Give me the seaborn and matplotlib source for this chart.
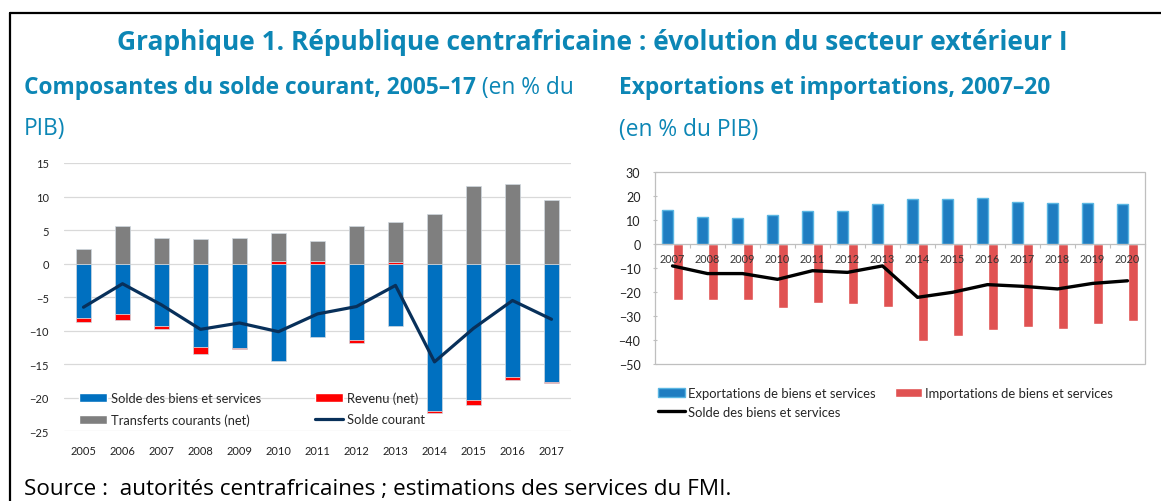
import numpy as np
import pandas as pd
import matplotlib
matplotlib.use("Agg")
import matplotlib.pyplot as plt
import seaborn as sns
from matplotlib.patches import Patch, Rectangle
from matplotlib.lines import Line2D

# composantes du solde courant, en % du PIB
annees_g = [str(a) for a in range(2005, 2018)]
solde_biens = [-8.05, -7.55, -9.3, -12.4, -12.55, -14.55, -10.9, -11.35, -9.3, -21.95, -20.3, -16.95, -17.65]
revenu = [-0.7, -0.85, -0.5, -1.15, -0.25, 0.4, 0.4, -0.5, 0.2, -0.25, -0.85, -0.4, -0.1]
transferts = [2.25, 5.55, 3.75, 3.65, 3.75, 4.1, 2.95, 5.55, 6.0, 7.35, 11.5, 11.8, 9.45]
solde_courant = [-6.5, -3.0, -6.15, -9.8, -8.85, -10.15, -7.5, -6.4, -3.25, -14.65, -9.65, -5.5, -8.3]

# exportations / importations, en % du PIB
annees_d = [str(a) for a in range(2007, 2021)]
exportations = [14.5, 11.3, 11.1, 12.3, 14.0, 14.0, 17.0, 18.9, 18.7, 19.2, 17.6, 17.3, 17.3, 17.0]
importations = [-23.3, -23.3, -23.3, -26.4, -24.4, -24.7, -26.2, -40.2, -38.4, -35.6, -34.5, -35.4, -33.3, -31.8]
solde_bs = [-9.0, -12.2, -12.2, -14.6, -11.0, -11.7, -9.0, -22.1, -20.0, -16.8, -17.5, -18.6, -16.3, -15.2]

BLEU = "#0070C0"
ROUGE = "#FF0000"
GRIS = "#7F7F7F"
MARINE = "#08305A"
EXPORT = "#1F7DC1"
EXPORT_BORD = "#5AB6E2"
IMPORT = "#E05252"
TEAL = "#0C86B5"

sns.set_theme(style="white")
plt.rcParams["font.family"] = ["Lato", "DejaVu Sans"]

W, H = 1161, 502
fig = plt.figure(figsize=(W / 100, H / 100), dpi=100)

# cadre (haut + gauche)
fig.add_artist(Line2D([10 / W, 1], [1 - 14 / H, 1 - 14 / H], color="black", lw=1.6))
fig.add_artist(Line2D([10 / W, 10 / W], [0, 1 - 14 / H], color="black", lw=1.6))

# titres
titre_font = ["Open Sans", "DejaVu Sans"]
fig.text(592 / W, 1 - 42 / H, "Graphique 1. République centrafricaine : évolution du secteur extérieur I",
         ha="center", va="center", fontsize=19, fontweight="bold", color=TEAL, family=titre_font)

t1 = fig.text(24 / W, 1 - 88 / H, "Composantes du solde courant, 2005–17", ha="left", va="center",
              fontsize=16.4, fontweight="bold", color=TEAL, family=titre_font)
fig.add_artist(plt.Annotation(" (en % du", xy=(1, 0.5), xycoords=t1, va="center", ha="left",
                              fontsize=16.4, color=TEAL, family=titre_font))
fig.text(24 / W, 1 - 129 / H, "PIB)", ha="left", va="center", fontsize=16.4, color=TEAL, family=titre_font)

fig.text(619 / W, 1 - 88 / H, "Exportations et importations, 2007–20", ha="left", va="center",
         fontsize=16.4, fontweight="bold", color=TEAL, family=titre_font)
fig.text(619 / W, 1 - 130 / H, "(en % du PIB)", ha="left", va="center", fontsize=16.4, color=TEAL,
         family=titre_font)

fig.text(24 / W, 1 - 490 / H, "Source :  autorités centrafricaines ; estimations des services du FMI.",
         ha="left", va="center", fontsize=16.2, color="black", family=titre_font)

# ---- panneau gauche : barres empilées ----
ax1 = fig.add_axes([64 / W, 1 - 432.3 / H, (571 - 64) / W, (432.3 - 164) / H])
rev = np.array(revenu)
base_rev = np.where(rev < 0, solde_biens, 0)
base_tr = np.where(rev > 0, rev, 0)

kw = dict(width=0.4, saturation=1, errorbar=None, edgecolor="#d0d8e0", linewidth=0.5, ax=ax1)
sns.barplot(x=annees_g, y=solde_biens, color=BLEU, **kw)
sns.barplot(x=annees_g, y=revenu, bottom=base_rev, color=ROUGE, **kw)
sns.barplot(x=annees_g, y=transferts, bottom=base_tr, color=GRIS, **kw)
sns.lineplot(x=np.arange(len(annees_g)), y=solde_courant, color=MARINE, linewidth=2.3, ax=ax1)

ax1.set_ylim(-25, 15)
ax1.set_xlim(-0.5, len(annees_g) - 0.5)
ax1.set_yticks(range(-25, 16, 5))
ax1.yaxis.grid(True, color="#d9d9d9", linewidth=0.9)
ax1.set_axisbelow(True)
for s in ax1.spines.values():
    s.set_visible(False)
ax1.tick_params(axis="y", length=0, pad=11, labelsize=8, labelcolor="#222222")
ax1.tick_params(axis="x", length=0, pad=10, labelsize=8, labelcolor="#222222")
ax1.set_xlabel("")
ax1.set_ylabel("")

h1 = [Patch(facecolor=BLEU), Patch(facecolor=GRIS), Patch(facecolor=ROUGE),
      Line2D([], [], color=MARINE, lw=2.3)]
l1 = ["Solde des biens et services", "Transferts courants (net)", "Revenu (net)", "Solde courant"]
ax1.legend(h1, l1, ncol=2, loc="upper left", bbox_to_anchor=(0.0296, 0.15), frameon=False,
           fontsize=9.3, handlelength=2.17, handletextpad=0.29, columnspacing=4.2, labelspacing=0.74,
           borderpad=0, borderaxespad=0)

# ---- panneau droit : exportations et importations ----
ax2 = fig.add_axes([655 / W, 1 - 365.3 / H, 490 / W, 192 / H])
df_d = pd.DataFrame({
    "annee": annees_d * 2,
    "valeur": exportations + importations,
    "serie": ["Exportations"] * len(annees_d) + ["Importations"] * len(annees_d),
})
sns.barplot(data=df_d, x="annee", y="valeur", hue="serie", palette=[EXPORT, IMPORT], width=0.62,
            saturation=1, errorbar=None, legend=False, ax=ax2)
for p in ax2.containers[0]:
    p.set_edgecolor(EXPORT_BORD)
    p.set_linewidth(1.0)
sns.lineplot(x=np.arange(len(annees_d)), y=solde_bs, color="black", linewidth=2.4, ax=ax2)

ax2.set_ylim(-50, 30)
ax2.set_xlim(-0.5, len(annees_d) - 0.5)
ax2.set_yticks(range(-50, 31, 10))
ax2.set_axisbelow(False)
for k, s in ax2.spines.items():
    s.set_color("#bfbfbf")
    s.set_linewidth(0.9)
    if k != "bottom":
        s.set_visible(False)
ax2.spines["bottom"].set_position(("data", 0))
ax2.add_patch(Rectangle((0, 0), 1, 1, transform=ax2.transAxes, fill=False, edgecolor="#bfbfbf",
                        linewidth=0.9, clip_on=False, zorder=0.5))
ax2.set_xticks(np.arange(-0.5, len(annees_d), 1), minor=True)
ax2.tick_params(left=True, bottom=True, which="both")
ax2.tick_params(axis="x", which="major", length=0, pad=6, labelsize=7.8, labelcolor="#333333")
ax2.tick_params(axis="x", which="minor", length=3, color="#bfbfbf", width=0.8, direction="out")
ax2.tick_params(axis="y", length=3, color="#bfbfbf", width=0.8, direction="inout", pad=9,
                labelsize=9, labelcolor="#222222")
ax2.set_xlabel("")
ax2.set_ylabel("")

h2 = [Patch(facecolor=EXPORT, edgecolor=EXPORT_BORD), Line2D([], [], color="black", lw=2.4),
      Patch(facecolor=IMPORT)]
l2 = ["Exportations de biens et services", "Solde des biens et services", "Importations de biens et services"]
ax2.legend(h2, l2, ncol=2, loc="upper left", bbox_to_anchor=(0.0067, -0.12), frameon=False,
           fontsize=9.4, handlelength=2.08, handletextpad=0.2, columnspacing=1.5, labelspacing=0.5,
           borderpad=0, borderaxespad=0)

fig.savefig("out.png", dpi=100)
